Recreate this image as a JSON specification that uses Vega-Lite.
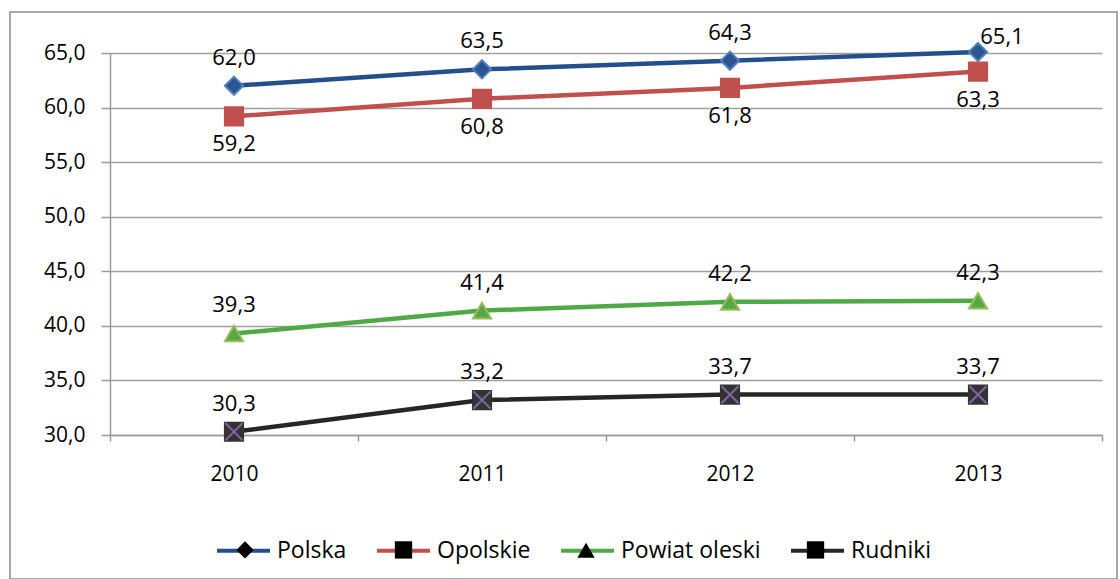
{
  "$schema": "https://vega.github.io/schema/vega-lite/v6.json",
  "width": 1107,
  "height": 567,
  "autosize": "none",
  "padding": {"left": 10, "top": 12, "right": 3, "bottom": 0},
  "background": "white",
  "config": {
    "view": {"stroke": "#8c8c8c", "strokeWidth": 1.5},
    "font": "Open Sans",
    "locale": {"number": {"decimal": ",", "thousands": " ", "grouping": [3], "currency": ["", " zł"]}}
  },
  "data": {
    "values": [
      {"series": "Polska", "year": "2010", "value": 62.0},
      {"series": "Polska", "year": "2011", "value": 63.5},
      {"series": "Polska", "year": "2012", "value": 64.3},
      {"series": "Polska", "year": "2013", "value": 65.1},
      {"series": "Opolskie", "year": "2010", "value": 59.2},
      {"series": "Opolskie", "year": "2011", "value": 60.8},
      {"series": "Opolskie", "year": "2012", "value": 61.8},
      {"series": "Opolskie", "year": "2013", "value": 63.3},
      {"series": "Powiat oleski", "year": "2010", "value": 39.3},
      {"series": "Powiat oleski", "year": "2011", "value": 41.4},
      {"series": "Powiat oleski", "year": "2012", "value": 42.2},
      {"series": "Powiat oleski", "year": "2013", "value": 42.3},
      {"series": "Rudniki", "year": "2010", "value": 30.3},
      {"series": "Rudniki", "year": "2011", "value": 33.2},
      {"series": "Rudniki", "year": "2012", "value": 33.7},
      {"series": "Rudniki", "year": "2013", "value": 33.7}
    ]
  },
  "encoding": {
    "x": {
      "field": "year",
      "type": "ordinal",
      "scale": {"type": "band", "range": [100, 1092], "paddingInner": 0, "paddingOuter": 0},
      "axis": {
        "title": null,
        "orient": "bottom",
        "offset": -144,
        "tickBand": "extent",
        "labelAngle": 0,
        "domainColor": "#9a9a9a",
        "domainWidth": 1.5,
        "tickColor": "#9a9a9a",
        "tickWidth": 1.5,
        "tickSize": 6,
        "labelPadding": 22,
        "labelFont": "Open Sans",
        "labelFontSize": 21,
        "labelColor": "#000000",
        "grid": false
      }
    },
    "y": {
      "field": "value",
      "type": "quantitative",
      "scale": {"domain": [30, 65], "range": [423, 41], "nice": false, "zero": false},
      "axis": {
        "title": null,
        "orient": "left",
        "offset": -100,
        "values": [30, 35, 40, 45, 50, 55, 60, 65],
        "format": ".1f",
        "grid": true,
        "gridColor": "#a0a0a0",
        "gridWidth": 1.5,
        "domainColor": "#9a9a9a",
        "domainWidth": 1.5,
        "tickColor": "#9a9a9a",
        "tickWidth": 1.5,
        "tickSize": 9,
        "labelPadding": 16,
        "labelFont": "Open Sans",
        "labelFontSize": 21,
        "labelColor": "#000000"
      }
    }
  },
  "layer": [
    {
      "mark": {"type": "line", "strokeWidth": 4.5},
      "encoding": {
        "color": {
          "field": "series",
          "type": "nominal",
          "scale": {
            "domain": ["Polska", "Opolskie", "Powiat oleski", "Rudniki"],
            "range": ["#244f8a", "#c0504d", "#4fa947", "#262626"]
          },
          "legend": {
            "title": null,
            "orient": "none",
            "direction": "horizontal",
            "legendX": 205,
            "legendY": 510,
            "padding": 0,
            "symbolType": "stroke",
            "symbolSize": 2809,
            "symbolStrokeWidth": 4,
            "labelOffset": 5,
            "columnPadding": 22,
            "labelFont": "Open Sans",
            "labelFontSize": 23,
            "labelColor": "#000000"
          }
        }
      }
    },
    {
      "transform": [{"calculate": "datum.series", "as": "marker"}],
      "mark": {"type": "point", "filled": true, "opacity": 1, "size": 330, "strokeWidth": 2},
      "encoding": {
        "shape": {
          "field": "marker",
          "type": "nominal",
          "sort": ["Polska", "Opolskie", "Powiat oleski", "Rudniki"],
          "scale": {"range": ["diamond", "square", "triangle-up", "square"]},
          "legend": {
            "title": null,
            "orient": "none",
            "direction": "horizontal",
            "legendX": 223.5,
            "legendY": 526,
            "padding": 0,
            "symbolSize": 300,
            "symbolStrokeWidth": 2,
            "labelOffset": 23.5,
            "columnPadding": 40.5,
            "labelFont": "Open Sans",
            "labelFontSize": 23,
            "labelColor": "transparent",
            "encode": {
              "symbols": {
                "update": {
                  "fill": {"signal": "scale('fill', datum.value)"},
                  "stroke": {"signal": "scale('stroke', datum.value)"},
                  "opacity": {"value": 1}
                }
              }
            }
          }
        },
        "fill": {
          "field": "marker",
          "type": "nominal",
          "sort": ["Polska", "Opolskie", "Powiat oleski", "Rudniki"],
          "scale": {"range": ["#2a5592", "#c0504d", "#55a844", "#333333"]},
          "legend": null
        },
        "stroke": {
          "field": "marker",
          "type": "nominal",
          "sort": ["Polska", "Opolskie", "Powiat oleski", "Rudniki"],
          "scale": {"range": ["#4f81bd", "#c0504d", "#9bbb59", "#333333"]},
          "legend": null
        }
      }
    },
    {
      "transform": [{"filter": "datum.series == 'Rudniki'"}],
      "mark": {"type": "point", "shape": "M-1,-1L1,1M-1,1L1,-1", "filled": false, "stroke": "#8064a2", "strokeWidth": 2, "size": 300, "opacity": 1}
    },
    {
      "transform": [{"filter": "datum.series != 'Opolskie' && !(datum.series == 'Polska' && datum.year == '2013')"}],
      "mark": {"type": "text", "dy": -28, "fontSize": 22, "font": "Open Sans", "color": "#000000"},
      "encoding": {"text": {"field": "value", "type": "quantitative", "format": ".1f"}}
    },
    {
      "transform": [{"filter": "datum.series == 'Opolskie'"}],
      "mark": {"type": "text", "dy": 28, "fontSize": 22, "font": "Open Sans", "color": "#000000"},
      "encoding": {"text": {"field": "value", "type": "quantitative", "format": ".1f"}}
    },
    {
      "transform": [{"filter": "datum.series == 'Polska' && datum.year == '2013'"}],
      "mark": {"type": "text", "dx": 24, "dy": -15, "fontSize": 22, "font": "Open Sans", "color": "#000000"},
      "encoding": {"text": {"field": "value", "type": "quantitative", "format": ".1f"}}
    }
  ]
}
